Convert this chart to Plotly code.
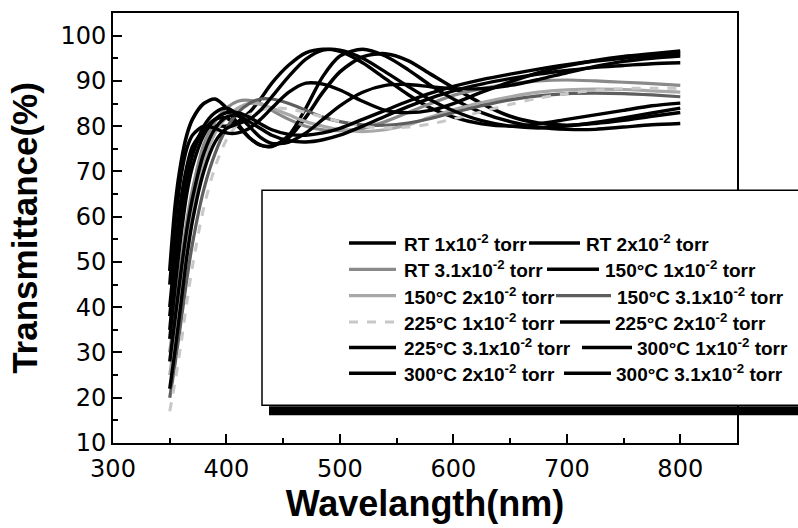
import plotly.graph_objects as go

# ---------------- data ----------------
wavelength = [350, 355, 360, 365, 370, 380, 390, 400, 410, 420, 430, 440, 455, 470, 485,
              500, 520, 540, 560, 580, 600, 625, 650, 675, 700, 725, 750, 775, 800]

series_names = [
    "RT 1x10<sup>-2</sup> torr", "RT 2x10<sup>-2</sup> torr",
    "RT 3.1x10<sup>-2</sup> torr", "150°C 1x10<sup>-2</sup> torr",
    "150°C 2x10<sup>-2</sup> torr", "150°C 3.1x10<sup>-2</sup> torr",
    "225°C 1x10<sup>-2</sup> torr", "225°C 2x10<sup>-2</sup> torr",
    "225°C 3.1x10<sup>-2</sup> torr", "300°C 1x10<sup>-2</sup> torr",
    "300°C 2x10<sup>-2</sup> torr", "300°C 3.1x10<sup>-2</sup> torr",
]

rt_1 = [48, 63, 72, 78, 81.5, 85, 86, 84, 80.5, 77.5, 75.8, 75.6, 77.5, 82, 87.5,
        92, 95.3, 96, 94.5, 91.5, 88.5, 85, 82.2, 80.7, 80.2, 80.6, 81.3, 82.2, 83]
rt_2 = [40, 53, 64, 71, 75.5, 79, 80, 80, 81, 83, 86, 89.5, 93.5, 96.2, 97,
        96.5, 94, 90.5, 87, 84, 82, 80.5, 80, 80.5, 81.5, 82.5, 83.5, 84.5, 85.1]
rt_31 = [30, 40, 50, 59, 66, 76, 81, 84, 85.5, 85.7, 85, 83.5, 81.5, 80, 79.2,
         79, 79.5, 81, 83, 85, 86.8, 88.3, 89.3, 90, 90.2, 90, 89.7, 89.4, 89.0]
c150_1 = [38, 50, 61, 69, 74, 79, 81.5, 81.8, 80, 77.5, 75.8, 75.5, 78, 84, 91,
          95.5, 97, 95.5, 92.5, 89, 86, 83, 81, 79.8, 79.3, 79.3, 79.8, 80.3, 80.6]
c150_2 = [25, 34, 44, 53, 61, 72, 78.5, 82, 84, 85, 84.8, 84, 82.5, 81, 80,
          79.2, 78.8, 79.2, 80.3, 82, 83.6, 85.2, 86.5, 87.5, 88, 88.2, 88.1, 87.8, 87.5]
c150_31 = [20, 28, 37, 46, 54, 66, 74, 79.5, 83, 85, 86, 86, 85, 83.5, 82,
           81, 80.3, 80.2, 80.7, 81.7, 83, 84.5, 85.8, 86.7, 87.2, 87.3, 87.2, 86.9, 86.5]
c225_1 = [17, 24, 32, 41, 49, 62, 71, 77, 80.5, 82.5, 83.5, 84, 83.8, 83, 82,
          81, 80, 79.6, 79.8, 80.5, 81.6, 83.2, 84.8, 86.2, 87.2, 87.9, 88.3, 88.4, 88.3]
c225_2 = [45, 59, 69, 75, 78, 80, 79.5, 78.5, 78.5, 79.5, 81.5, 84, 87.5, 89.5, 89.3,
          88, 85.5, 83.5, 83, 83.5, 85, 87.5, 89.8, 91.8, 93.3, 94.5, 95.4, 96, 96.6]
c225_31 = [33, 45, 56, 65, 71, 78, 81.5, 83, 83, 82, 80.5, 79.2, 78.2, 78, 78.5,
           79.5, 81.5, 83.5, 85.5, 87.3, 88.8, 90.3, 91.5, 92.6, 93.6, 94.4, 95, 95.6, 96]
c300_1 = [28, 38, 48, 57, 64, 74, 79.5, 82, 82.3, 81, 79.5, 78, 76.8, 76.5, 77,
          78, 80, 82.2, 84.3, 86.2, 87.8, 89.3, 90.5, 91.5, 92.3, 93, 93.4, 93.8, 94.0]
c300_2 = [22, 31, 41, 51, 59, 70, 76.5, 79.5, 80.5, 81.5, 83.5, 86.5, 91, 94.8, 96.8,
          96.8, 95, 92, 88.8, 85.8, 83.4, 81.2, 80, 79.6, 80, 80.8, 81.8, 82.9, 84.0]
c300_31 = [35, 48, 60, 68, 73.5, 80, 83, 84, 82.5, 80, 77.5, 76.2, 76.5, 78.5, 81.5,
           84.5, 87.5, 89, 89.2, 88.7, 88.3, 88.3, 89, 90.3, 91.8, 93.2, 94.3, 95, 95.5]

series_values = [rt_1, rt_2, rt_31, c150_1, c150_2, c150_31,
                 c225_1, c225_2, c225_31, c300_1, c300_2, c300_31]

x_ticks = [300, 400, 500, 600, 700, 800]
y_ticks = [10, 20, 30, 40, 50, 60, 70, 80, 90, 100]

# ---------------- styles ----------------
colors = ["#000000", "#000000", "#8a8a8a", "#000000", "#a8a8a8", "#5e5e5e",
          "#c8c8c8", "#000000", "#000000", "#000000", "#000000", "#000000"]
dashes = ["solid"] * 12
dashes[6] = "dash"
widths = [3.6, 3.4, 3.2, 3.4, 3.2, 3.2, 3, 3.4, 3.4, 3.4, 3.4, 3.4]

FONT = "Liberation Sans, Arial, sans-serif"
WIDE = "DejaVu Sans, Liberation Sans, sans-serif"

fig = go.Figure()
for name, vals, c, d, w in zip(series_names, series_values, colors, dashes, widths):
    fig.add_trace(go.Scatter(
        x=wavelength, y=vals, mode="lines", name=name, showlegend=False,
        line=dict(color=c, width=w, dash=d, shape="spline", smoothing=0.8),
    ))

# plot-area geometry in pixels (used to place legend decorations)
W_PX, H_PX = 798, 528
L, R, T, B = 113, 61, 11, 85
PW, PH = W_PX - L - R, H_PX - T - B


def px_x(px):
    return (px - L) / PW


def px_y(py):
    return (H_PX - B - py) / PH


shapes = []
# legend frame (extends beyond the right edge) and its shadow
shapes.append(dict(type="rect", xref="paper", yref="paper",
                   x0=px_x(262), x1=px_x(860), y0=px_y(405), y1=px_y(189),
                   line=dict(color="black", width=1.5), fillcolor="white", layer="above"))
shapes.append(dict(type="rect", xref="paper", yref="paper",
                   x0=px_x(269), x1=px_x(860), y0=px_y(415), y1=px_y(406),
                   line=dict(width=0), fillcolor="black", layer="above"))

row_y = [242, 268.5, 295, 321.5, 347, 373]
col1 = (349, 396, 402)
col2 = [(529, 580, 584), (547, 599, 603), (556, 611, 615),
        (560, 610, 613), (582, 632, 635), (564, 611, 614)]

annotations = []
for i, name in enumerate(series_names):
    r = i // 2
    x0, x1, xt = col1 if i % 2 == 0 else col2[r]
    shapes.append(dict(type="line", xref="paper", yref="paper",
                       x0=px_x(x0), x1=px_x(x1), y0=px_y(row_y[r]), y1=px_y(row_y[r]),
                       line=dict(color=colors[i], width=widths[i], dash=dashes[i]),
                       layer="above"))
    annotations.append(dict(xref="paper", yref="paper", x=px_x(xt), y=px_y(row_y[r]),
                            xanchor="left", yanchor="middle", showarrow=False,
                            text="<b>" + name + "</b>",
                            font=dict(family=FONT, size=19, color="black")))

fig.update_layout(
    width=W_PX, height=H_PX,
    margin=dict(l=L, r=R, t=T, b=B, pad=0),
    paper_bgcolor="white", plot_bgcolor="white",
    showlegend=False,
    shapes=shapes, annotations=annotations,
    font=dict(family=FONT, color="black"),
)
fig.update_xaxes(
    range=[300, 850], tickvals=x_ticks, ticks="inside", ticklen=9, tickwidth=1.5,
    tickcolor="black", showline=True, linecolor="black", linewidth=2, mirror=True,
    showgrid=False, zeroline=False, tickfont=dict(family=WIDE, size=24),
    ticklabelstandoff=3,
    minor=dict(ticks="inside", ticklen=5, tickwidth=1.5, tickcolor="black", dtick=50, tick0=300),
    title=dict(text="<b>Wavelangth(nm)</b>", font=dict(family=FONT, size=36), standoff=2),
)
fig.update_yaxes(
    range=[10, 105], tickvals=y_ticks, ticks="inside", ticklen=9, tickwidth=1.5,
    tickcolor="black", showline=True, linecolor="black", linewidth=2, mirror=True,
    showgrid=False, zeroline=False, tickfont=dict(family=WIDE, size=24),
    minor=dict(ticks="inside", ticklen=5, tickwidth=1.5, tickcolor="black", dtick=5, tick0=10),
    title=dict(text="<b>Transmittance(%)</b>", font=dict(family=FONT, size=35), standoff=12),
)

fig.write_html("out.html", config={"displayModeBar": False},
               post_script="document.body.style.margin='0';document.body.style.padding='0';")
